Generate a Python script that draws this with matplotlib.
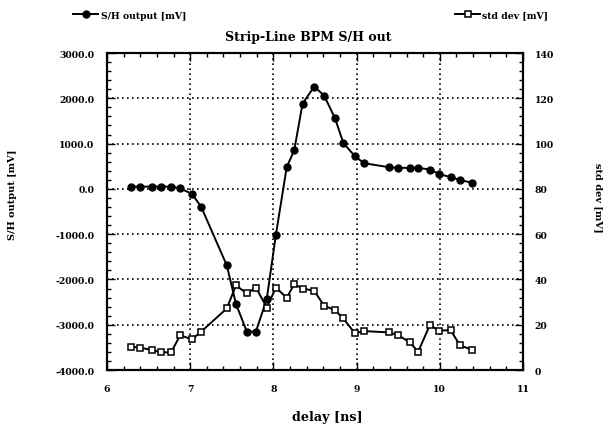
import numpy as np
import matplotlib
matplotlib.use('Agg')
import matplotlib.pyplot as plt
from matplotlib.ticker import MultipleLocator, FormatStrFormatter

# delay values [ns], shared by both series
delay = [6.29, 6.40, 6.54, 6.65, 6.77, 6.88, 7.02, 7.13, 7.44, 7.55, 7.68, 7.79,
         7.92, 8.03, 8.16, 8.25, 8.35, 8.49, 8.61, 8.74, 8.84, 8.98, 9.09, 9.39,
         9.50, 9.64, 9.74, 9.88, 9.99, 10.13, 10.24, 10.39]

# S/H output [mV]
sh_output = [50, 50, 50, 50, 50, 10, -110, -390, -1690, -2540, -3150, -3150,
             -2430, -1010, 480, 850, 1880, 2260, 2060, 1560, 1015, 720, 567, 478,
             464, 464, 464, 427, 331, 257, 199, 132]

# std dev [mV]
std_dev = [10.3, 9.9, 8.8, 7.8, 7.8, 15.4, 13.5, 16.9, 27.2, 37.4, 33.8, 36.4,
           27.6, 36.4, 31.9, 37.9, 36.0, 35.0, 28.4, 26.4, 22.8, 16.2, 17.2, 16.6,
           15.4, 12.2, 8.1, 19.8, 17.4, 17.6, 11.0, 8.8]

plt.rcParams['font.family'] = ['DejaVu Serif']
plt.rcParams['font.weight'] = 'bold'

fig = plt.figure(figsize=(6.14, 4.27), dpi=100)
ax = fig.add_axes([0.1743, 0.1311, 0.6775, 0.7424])
ax2 = ax.twinx()

l1, = ax.plot(delay, sh_output, color='black', lw=1.4, marker='o', ms=5,
              label='S/H output [mV]')
l2, = ax2.plot(delay, std_dev, color='black', lw=1.4, marker='s', ms=4.5,
               mfc='white', mew=1.1, label='std dev [mV]')

ax.set_xlim(6, 11)
ax.set_ylim(-4000, 3000)
ax2.set_ylim(0, 140)

ax.xaxis.set_major_locator(MultipleLocator(1))
ax.xaxis.set_minor_locator(MultipleLocator(0.2))
ax.yaxis.set_major_locator(MultipleLocator(1000))
ax.yaxis.set_minor_locator(MultipleLocator(200))
ax.yaxis.set_major_formatter(FormatStrFormatter('%.1f'))
ax2.yaxis.set_major_locator(MultipleLocator(20))
ax2.yaxis.set_minor_locator(MultipleLocator(4))

ax.grid(True, which='major', color='black', ls=(0, (1, 2)), lw=1.2)
for a in (ax, ax2):
    a.tick_params(which='both', direction='in', labelsize=6.7, width=1.0)
    a.tick_params(which='major', length=6)
    a.tick_params(which='minor', length=3)
    for s in a.spines.values():
        s.set_linewidth(1.5)
ax.tick_params(axis='x', which='both', top=True, pad=10)
ax.tick_params(axis='y', pad=9)
ax2.tick_params(axis='y', pad=8.5)

ax.set_xlabel('delay [ns]', fontsize=9.2, fontweight='bold', va='center')
ax.xaxis.set_label_coords(0.529, -0.148)
ax.set_ylabel('S/H output [mV]', fontsize=7, fontweight='bold', va='center')
ax.yaxis.set_label_coords(-0.228, 0.555)
ax2.set_ylabel('std dev [mV]', fontsize=7, fontweight='bold', rotation=270,
               va='center')
ax2.yaxis.set_label_coords(1.180, 0.546)
fig.text(308 / 614, 1 - 37 / 427, 'Strip-Line BPM S/H out', fontsize=9,
         fontweight='bold', ha='center', va='center')

leg_kw = dict(loc='center left', frameon=False, fontsize=6.7, handlelength=2.7,
              handletextpad=0.25, borderpad=0, borderaxespad=0)
fig.legend(handles=[l1], bbox_to_anchor=(0.119, 0.962), **leg_kw)
fig.legend(handles=[l2], bbox_to_anchor=(0.741, 0.962), **leg_kw)

fig.savefig('out.png', dpi=100)
